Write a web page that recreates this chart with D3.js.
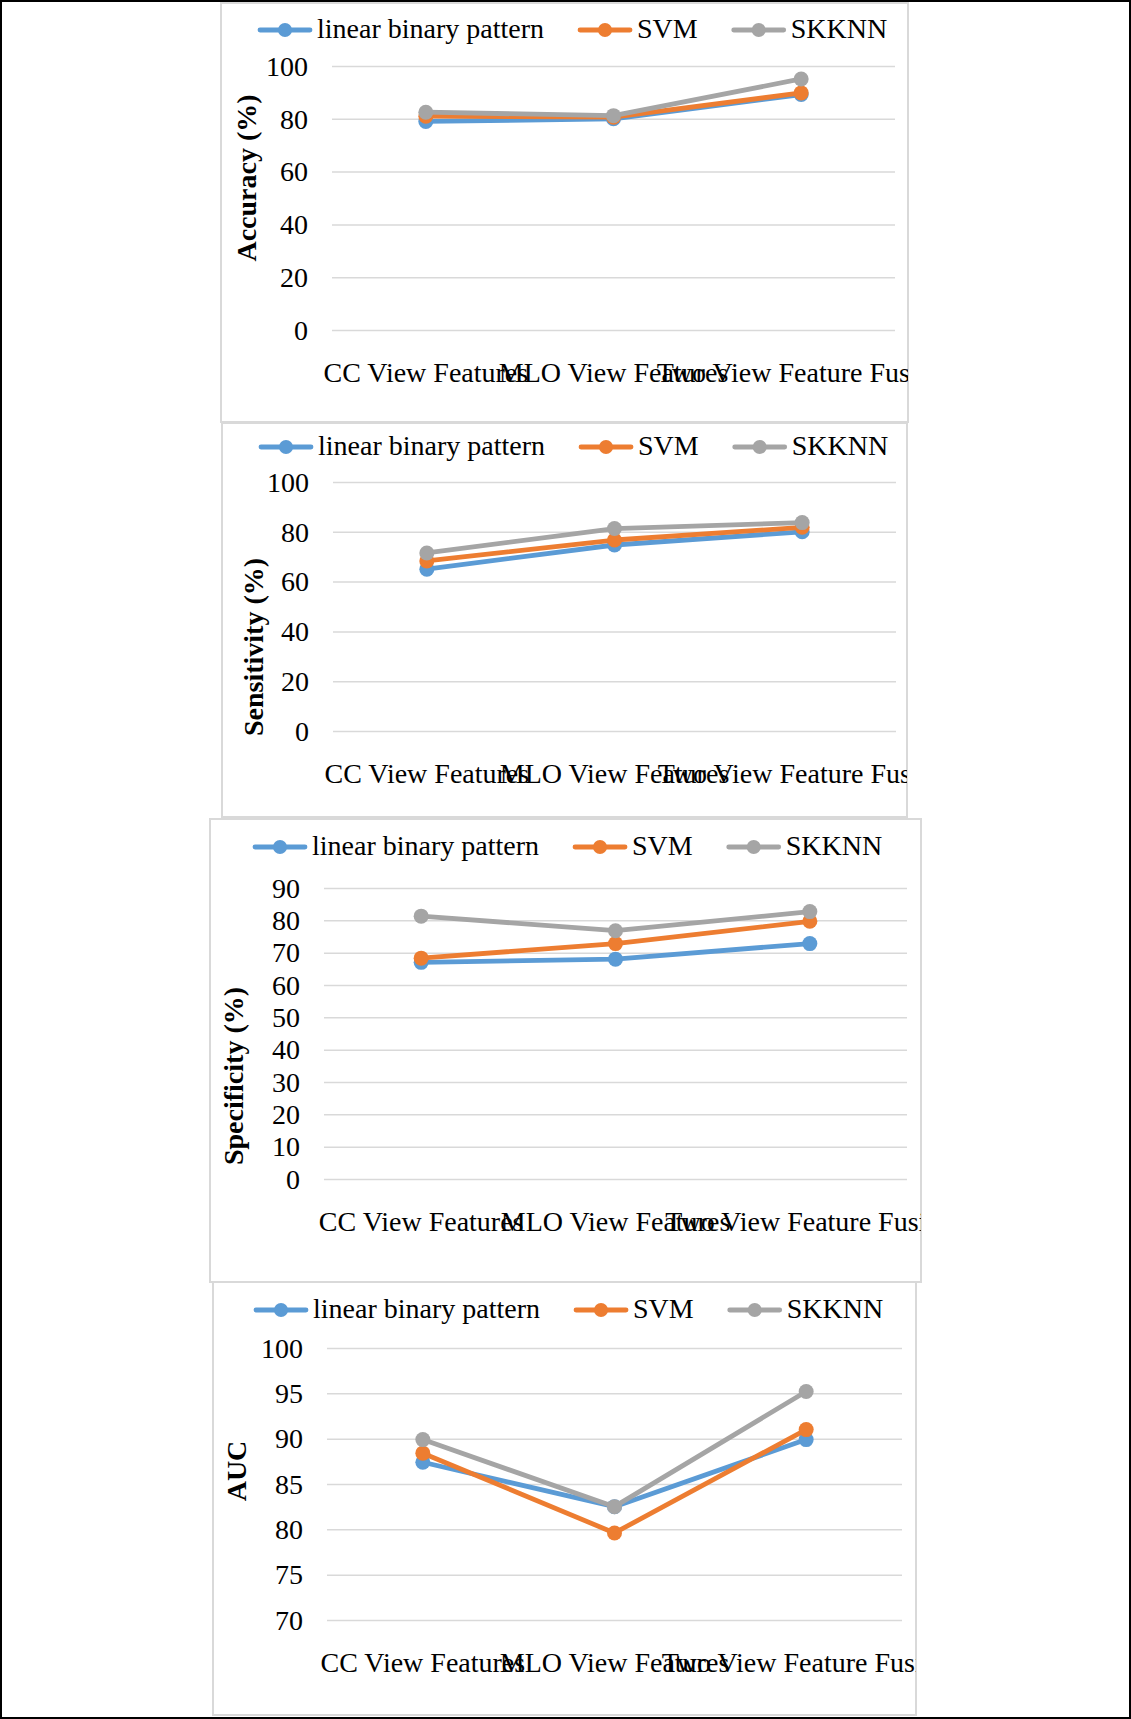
<!DOCTYPE html>
<meta charset="utf-8">
<title>Accuracy / Sensitivity / Specificity / AUC</title>
<script src="https://cdn.jsdelivr.net/npm/d3@7/dist/d3.min.js"></script>
<style>
    body { margin: 0; background: #fff; }
    svg text { font-family: "Liberation Serif", "Times New Roman", serif; fill: #000; }
</style>
<body>
<script>
    // categories and series names
    var categories = ["CC View Features", "MLO View Features", "Two View Feature Fusion"];
    var seriesNames = ["linear binary pattern", "SVM", "SKKNN"];

    // values, one row per series (LBP, SVM, SKKNN)
    var accuracy = [
        [79.0, 80.0, 89.2],
        [81.0, 80.6, 89.8],
        [82.5, 81.2, 95.1]
    ];
    var sensitivity = [
        [65.0, 74.7, 80.0],
        [68.3, 76.7, 81.8],
        [71.5, 81.3, 83.7]
    ];
    var specificity = [
        [67.0, 68.0, 72.8],
        [68.3, 72.8, 79.7],
        [81.3, 76.8, 82.7]
    ];
    var auc = [
        [87.4, 82.5, 89.9],
        [88.4, 79.6, 91.0],
        [89.9, 82.5, 95.2]
    ];

    // tick labels of each value axis
    var accuracyTicks = [0, 20, 40, 60, 80, 100];
    var sensitivityTicks = [0, 20, 40, 60, 80, 100];
    var specificityTicks = [0, 10, 20, 30, 40, 50, 60, 70, 80, 90];
    var aucTicks = [70, 75, 80, 85, 90, 95, 100];

    var colors = ["#5b9bd5", "#ed7d31", "#a5a5a5"];

    // layout of the four stacked panels (box, plot area, legend, axis title)
    var panels = [
        {title: "Accuracy (%)", values: accuracy, ticks: accuracyTicks,
         box: [221, 3, 908, 422], plot: [332, 895, 66, 330], legend: [258, 30], titleAt: [247, 178]},
        {title: "Sensitivity (%)", values: sensitivity, ticks: sensitivityTicks,
         box: [222, 423, 907, 817], plot: [333, 896, 482, 731], legend: [259, 447], titleAt: [254, 647]},
        {title: "Specificity (%)", values: specificity, ticks: specificityTicks,
         box: [210, 819, 921, 1282], plot: [324, 907, 888, 1179], legend: [253, 847], titleAt: [234, 1076]},
        {title: "AUC", values: auc, ticks: aucTicks,
         box: [213, 1282, 916, 1715], plot: [327, 902, 1348, 1620], legend: [254, 1310], titleAt: [237, 1471]}
    ];

    var W = 1131, H = 1719, fs = 28;

    var svg = d3.select("body").append("svg")
        .attr("width", W).attr("height", H);

    var defs = svg.append("defs");

    panels.forEach(function (p, pi) {
        var g = svg.append("g");
        var b = p.box;

        defs.append("clipPath").attr("id", "clip" + pi)
            .append("rect")
            .attr("x", b[0]).attr("y", b[1])
            .attr("width", b[2] - b[0]).attr("height", b[3] - b[1]);

        g.append("rect")
            .attr("x", b[0]).attr("y", b[1])
            .attr("width", b[2] - b[0]).attr("height", b[3] - b[1])
            .attr("fill", "#fff").attr("stroke", "#d9d9d9").attr("stroke-width", 2);

        var inner = g.append("g").attr("clip-path", "url(#clip" + pi + ")");

        var x = d3.scaleBand().domain(categories).range([p.plot[0], p.plot[1]]);
        var y = d3.scaleLinear()
            .domain([p.ticks[0], p.ticks[p.ticks.length - 1]])
            .range([p.plot[3], p.plot[2]]);

        // gridlines + tick labels
        var yAxis = d3.axisLeft(y).tickValues(p.ticks)
            .tickSize(-(p.plot[1] - p.plot[0])).tickPadding(24).tickFormat(d3.format("d"));
        var ya = inner.append("g").attr("transform", "translate(" + p.plot[0] + ",0)").call(yAxis);
        ya.select(".domain").remove();
        ya.selectAll(".tick line").attr("stroke", "#d9d9d9").attr("stroke-width", 1.5);
        ya.selectAll(".tick text").attr("font-size", fs).attr("dy", "0.33em")
            .style("font-family", "'Liberation Serif', 'Times New Roman', serif");

        // category labels (overlapping, clipped at the box like the original)
        var xAxis = d3.axisBottom(x).tickSize(0).tickPadding(0);
        var xa = inner.append("g").attr("transform", "translate(0," + (p.plot[3] + 52) + ")").call(xAxis);
        xa.select(".domain").remove();
        xa.selectAll(".tick text").attr("font-size", fs).attr("dy", 0)
            .style("font-family", "'Liberation Serif', 'Times New Roman', serif");

        // axis title
        g.append("text")
            .attr("transform", "translate(" + p.titleAt[0] + "," + p.titleAt[1] + ") rotate(-90)")
            .attr("text-anchor", "middle").attr("dy", "0.33em")
            .attr("font-size", fs).attr("font-weight", "bold")
            .text(p.title);

        // series
        var line = d3.line()
            .x(function (d, i) { return x(categories[i]) + x.bandwidth() / 2; })
            .y(function (d) { return y(d); });

        p.values.forEach(function (vals, si) {
            var sg = inner.append("g");
            sg.append("path").datum(vals)
                .attr("d", line)
                .attr("fill", "none").attr("stroke", colors[si])
                .attr("stroke-width", 4.8).attr("stroke-linejoin", "round").attr("stroke-linecap", "round");
            sg.selectAll("circle").data(vals).enter().append("circle")
                .attr("cx", function (d, i) { return x(categories[i]) + x.bandwidth() / 2; })
                .attr("cy", function (d) { return y(d); })
                .attr("r", 7.5).attr("fill", colors[si]);
        });

        // legend
        var lg = g.append("g").attr("transform", "translate(" + p.legend[0] + "," + p.legend[1] + ")");
        var cx = 0;
        seriesNames.forEach(function (name, si) {
            lg.append("line").attr("x1", cx + 2).attr("x2", cx + 52).attr("y1", 0).attr("y2", 0)
                .attr("stroke", colors[si]).attr("stroke-width", 4.8).attr("stroke-linecap", "round");
            lg.append("circle").attr("cx", cx + 27).attr("cy", 0).attr("r", 7).attr("fill", colors[si]);
            var t = lg.append("text").attr("x", cx + 59).attr("y", 0).attr("dy", "0.3em")
                .attr("font-size", fs).text(name);
            cx += 59 + t.node().getComputedTextLength() + 34;
        });
    });

    // outer frame
    svg.append("rect").attr("x", 1).attr("y", 1).attr("width", W - 2).attr("height", H - 2)
        .attr("fill", "none").attr("stroke", "#000").attr("stroke-width", 2);
</script>
</body>
